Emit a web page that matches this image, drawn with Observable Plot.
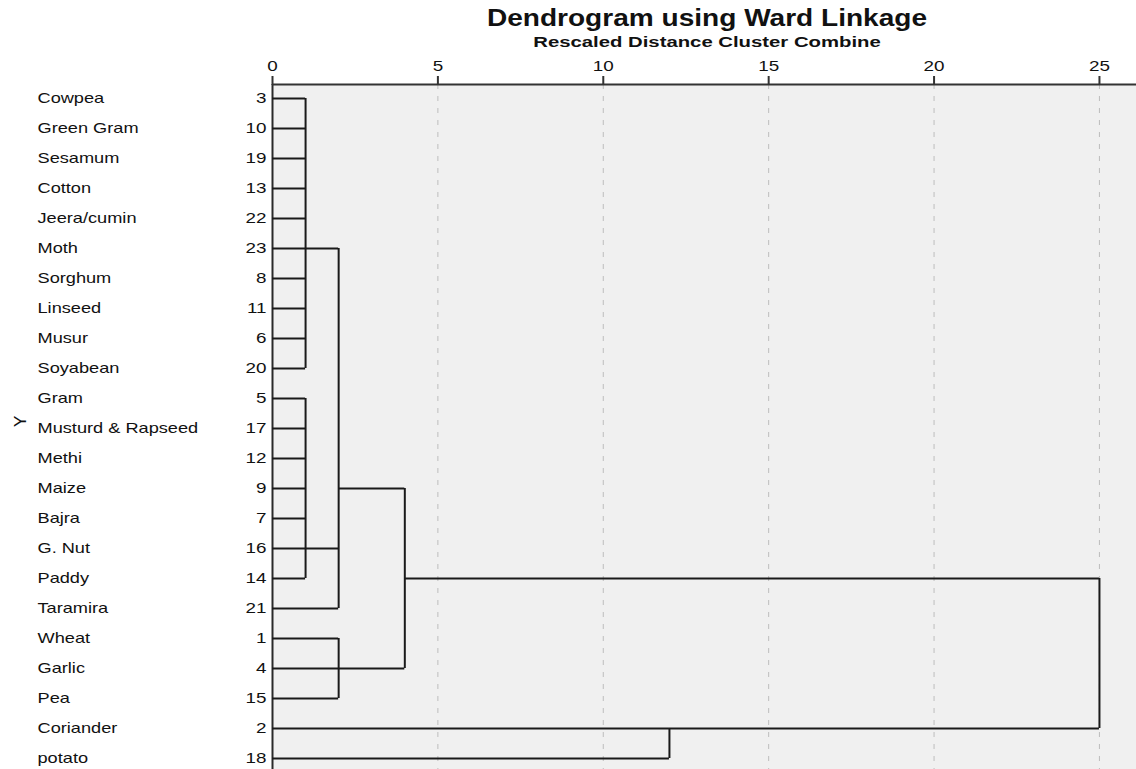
<!DOCTYPE html>
<html><head><meta charset="utf-8">
<script src="https://cdn.jsdelivr.net/npm/d3@7"></script>
<script src="https://cdn.jsdelivr.net/npm/@observablehq/plot@0.6"></script>
<style>
body{margin:0;background:#fff;font-family:"Liberation Sans",Arial,sans-serif;}
#wrap{position:relative;width:1136px;height:769px;overflow:hidden;}
.t{position:absolute;left:707px;white-space:nowrap;color:#111;font-weight:bold;line-height:1;}
#title{top:7px;font-size:23px;transform:translateX(-50%) scaleX(1.22);}
#sub{top:35px;font-size:14.5px;transform:translateX(-50%) scaleX(1.4);}
#chart{position:absolute;left:0;top:52px;}
</style></head>
<body><div id="wrap">
<div id="title" class="t">Dendrogram using Ward Linkage</div>
<div id="sub" class="t">Rescaled Distance Cluster Combine</div>
<div id="chart"></div>
</div>
<script>
// Leaf order (top to bottom) and SPSS case numbers
const crops = ["Cowpea","Green Gram","Sesamum","Cotton","Jeera/cumin","Moth","Sorghum","Linseed","Musur","Soyabean","Gram","Musturd & Rapseed","Methi","Maize","Bajra","G. Nut","Paddy","Taramira","Wheat","Garlic","Pea","Coriander","potato"];
const caseNumbers = [3,10,19,13,22,23,8,11,6,20,5,17,12,9,7,16,14,21,1,4,15,2,18];
const xTicks = [0,5,10,15,20,25];

// Merges (rescaled distance), the row where each cluster's link attaches, and children
const mergeIds = ["A","B","C","D","E","F","G"];
const mergeHeights = [1,1,2,2,4,12,25];
const mergeRows = [5,15,13,19,16,21,null];
const mergeChildren = [
  [0,1,2,3,4,5,6,7,8,9],
  [10,11,12,13,14,15,16],
  ["A","B",17],
  [18,19,20],
  ["C","D"],
  [21,22],
  ["E","F"]
];

// Build segments
const node = {};
crops.forEach((c,i)=>{ node[i] = {h:0,row:i}; });
const hSegs = [], vSegs = [];
mergeIds.forEach((id,k)=>{
  const h = mergeHeights[k];
  const kids = mergeChildren[k].map(c=>node[c]);
  kids.forEach(c=>hSegs.push({row:c.row, from:c.h, to:h}));
  const rs = kids.map(c=>c.row);
  vSegs.push({at:h, from:Math.min(...rs), to:Math.max(...rs)});
  node[id] = {h:h, row:mergeRows[k]};
});

const rows = crops.map((c,i)=>i);
const xMax = 26.12, yMin = -0.467, yMax = 22.367;

const chart = Plot.plot({
  width:1136, height:717,
  marginLeft:272, marginRight:0, marginTop:32, marginBottom:0,
  x:{domain:[0,xMax]},
  y:{domain:[yMin,yMax], reverse:true},
  style:{fontFamily:"'Liberation Sans', Arial, sans-serif", fontSize:"14px", color:"#111", background:"transparent"},
  marks:[
    Plot.frame({fill:"#f0f0f0", stroke:"none"}),
    Plot.gridX(xTicks.slice(1), {stroke:"#bdbdbd", strokeOpacity:1, strokeDasharray:"5,7", strokeWidth:1}),
    Plot.ruleX([0], {stroke:"#2a2a2a", strokeWidth:2}),
    Plot.ruleY([yMin], {stroke:"#333", strokeWidth:2}),
    Plot.axisX(xTicks, {anchor:"top", tickSize:9, tickPadding:5, stroke:"#333", strokeWidth:2, fontSize:14.5, label:null}),
    Plot.axisY(rows, {anchor:"left", tickSize:0, tickPadding:6, tickFormat:i=>caseNumbers[i], fontSize:14.5, label:null}),
    Plot.axisY(rows, {anchor:"left", tickSize:0, tickPadding:235, textAnchor:"start", tickFormat:i=>crops[i], fontSize:14, label:null}),
    Plot.text(["Y"], {frameAnchor:"left", dx:-252, rotate:-90, fontSize:17}),
    Plot.ruleY(hSegs, {y:"row", x1:"from", x2:"to", stroke:"#1a1a1a", strokeWidth:1.9}),
    Plot.ruleX(vSegs, {x:"at", y1:"from", y2:"to", stroke:"#1a1a1a", strokeWidth:2})
  ]
});
document.getElementById("chart").appendChild(chart);
// widen glyphs horizontally (the reference text is drawn wide)
chart.querySelectorAll("text").forEach(t=>{
  const tr = t.getAttribute("transform") || "";
  if (tr.includes("rotate")) return;
  const ax = parseFloat(t.getAttribute("x")) || 0;
  t.setAttribute("transform", `${tr} translate(${ax},0) scale(1.3,1) translate(${-ax},0)`);
});
</script>
</body></html>
